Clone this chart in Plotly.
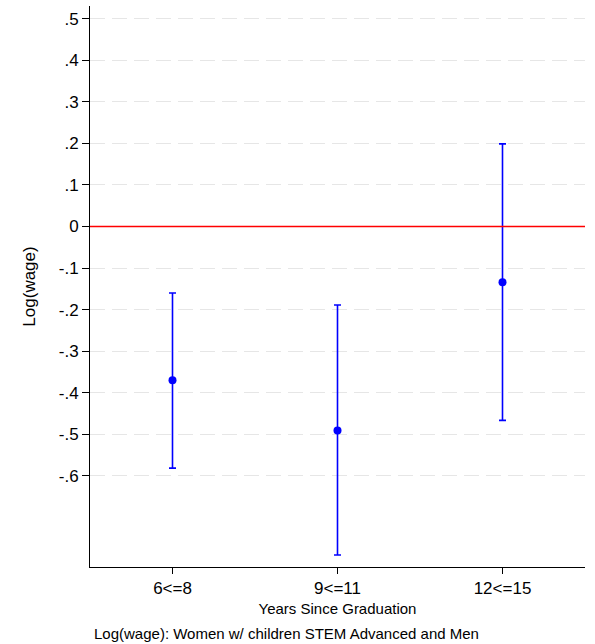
import plotly.graph_objects as go

categories = ["6<=8", "9<=11", "12<=15"]
x_pos = [1, 2, 3]
coef = [-0.370, -0.491, -0.134]
ci_low = [-0.582, -0.791, -0.467]
ci_high = [-0.160, -0.189, 0.199]

ytick_vals = [0.5, 0.4, 0.3, 0.2, 0.1, 0, -0.1, -0.2, -0.3, -0.4, -0.5, -0.6]
ytick_text = [".5", ".4", ".3", ".2", ".1", "0", "-.1", "-.2", "-.3", "-.4", "-.5", "-.6"]

FONT = "Liberation Sans, Arial, sans-serif"

fig = go.Figure()

fig.add_trace(go.Scatter(
    x=x_pos, y=coef, mode="markers",
    marker=dict(color="#0000ff", size=8),
    error_y=dict(type="data", symmetric=False,
                 array=[h - c for h, c in zip(ci_high, coef)],
                 arrayminus=[c - l for c, l in zip(coef, ci_low)],
                 color="#0000ff", thickness=1.6, width=3.5),
    showlegend=False, hoverinfo="skip",
))

fig.add_shape(type="line", xref="paper", yref="y", x0=0, x1=1, y0=0, y1=0,
              line=dict(color="#ff0000", width=1.6))

fig.update_layout(
    width=595, height=644,
    margin=dict(l=90, r=10, t=6, b=77),
    paper_bgcolor="white", plot_bgcolor="white",
    font=dict(family=FONT, color="black", size=15),
    xaxis=dict(
        range=[0.5, 3.5], tickvals=x_pos, ticktext=categories,
        showgrid=False, zeroline=False,
        showline=True, linecolor="black", linewidth=1,
        ticks="outside", ticklen=6, tickcolor="black",
        tickfont=dict(size=17),
        title=dict(text="Years Since Graduation", font=dict(size=15), standoff=6),
    ),
    yaxis=dict(
        range=[-0.82, 0.531], tickvals=ytick_vals, ticktext=ytick_text,
        showgrid=True, gridcolor="#e6e6e6", gridwidth=1, griddash="15px,7px",
        zeroline=False,
        showline=True, linecolor="black", linewidth=1,
        ticks="outside", ticklen=7, tickcolor="black",
        tickfont=dict(size=17),
        title=dict(text="Log(wage)", font=dict(size=17), standoff=18),
    ),
    annotations=[dict(
        text="Log(wage): Women w/ children STEM Advanced and Men",
        xref="paper", yref="paper", x=0, y=0, xshift=2, yshift=-56,
        xanchor="left", yanchor="top", showarrow=False,
        font=dict(size=15),
    )],
)

fig.write_html("out.html")
